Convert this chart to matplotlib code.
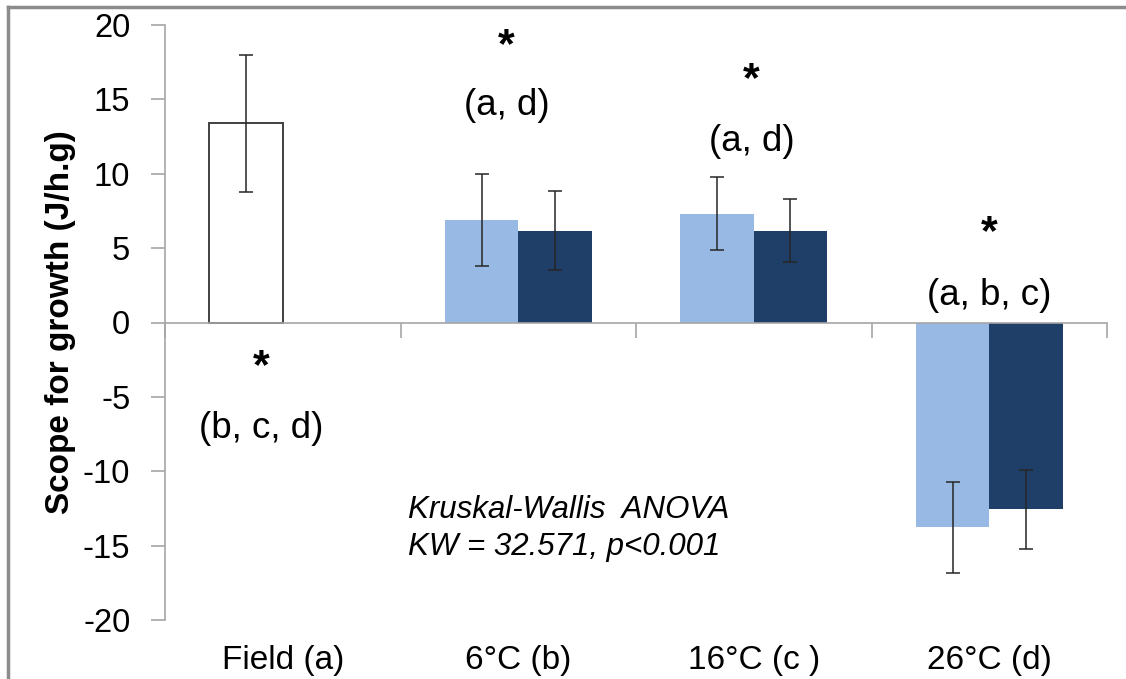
import numpy as np
import matplotlib
matplotlib.use("Agg")
import matplotlib.pyplot as plt
from matplotlib.lines import Line2D

plt.rcParams["font.family"] = ["Liberation Sans", "DejaVu Sans"]
plt.rcParams["axes.unicode_minus"] = False

# data
categories = ["Field (a)", "6°C (b)", "16°C (c )", "26°C (d)"]
light_mean = [13.4, 6.9, 7.3, -13.75]
light_sd = [4.6, 3.1, 2.45, 3.06]
dark_mean = [np.nan, 6.17, 6.17, -12.55]
dark_sd = [np.nan, 2.67, 2.1, 2.65]
letters = ["(b, c, d)", "(a, d)", "(a, d)", "(a, b, c)"]
yticks = [-20, -15, -10, -5, 0, 5, 10, 15, 20]

# annotation placement (x offset from category centre, y of letters / star)
note_dx = [-0.09, -0.05, -0.01, 0.0]
letter_y = [-7.1, 14.6, 12.2, 1.8]
star_y = [-3.0, 18.6, 16.3, 6.0]

light_col = "#97B9E4"
dark_col = "#1F3F68"
axis_col = "#A6A6A6"

fig = plt.figure(figsize=(11.26, 6.79), dpi=100)
ax = fig.add_axes([165 / 1126, 1 - 620 / 679, (1107 - 165) / 1126, 595 / 679])

x = np.arange(len(categories))
w = 0.312

# first series: field bar is white with an outline, the rest light blue
face = ["white"] + [light_col] * (len(categories) - 1)
edge = ["#404040"] + [light_col] * (len(categories) - 1)
lw = [1.4] + [0] * (len(categories) - 1)
ax.bar(x - w / 2, light_mean, w, color=face, edgecolor=edge, linewidth=lw, zorder=2)
ax.bar(x + w / 2, dark_mean, w, color=dark_col, linewidth=0, zorder=2)

ekw = dict(fmt="none", ecolor="#262626", elinewidth=1.1, capsize=5, capthick=1.1, zorder=3)
ax.errorbar(x - w / 2, light_mean, yerr=light_sd, **ekw)
ax.errorbar(x + w / 2, dark_mean, yerr=dark_sd, **ekw)

ax.set_xlim(-0.5, len(categories) - 0.5)
ax.set_ylim(-20, 20)
ax.set_yticks(yticks)

for s in ["top", "right"]:
    ax.spines[s].set_visible(False)
ax.spines["left"].set_color(axis_col)
ax.spines["left"].set_linewidth(1.2)
ax.spines["bottom"].set_position(("data", 0))
ax.spines["bottom"].set_color(axis_col)
ax.spines["bottom"].set_linewidth(1.2)

ax.tick_params(axis="y", direction="out", length=10, width=1.2, color=axis_col,
               labelsize=23.5, pad=15, labelcolor="black")
ax.set_xticks(x)
ax.set_xticks(np.arange(len(categories) + 1) - 0.5, minor=True)
ax.tick_params(axis="x", which="major", length=0, labelbottom=False)
ax.tick_params(axis="x", which="minor", direction="out", length=11, width=1.2, color=axis_col)

sec = ax.secondary_xaxis(0.0)
sec.set_xticks(x)
sec.set_xticklabels(categories)
sec.tick_params(length=0, labelsize=24, pad=18)
sec.spines["bottom"].set_visible(False)

ax.set_ylabel("Scope for growth (J/h.g)", fontsize=24, fontweight="bold")
ax.yaxis.set_label_coords(-0.094, 0.5)

for i in range(len(categories)):
    ax.text(x[i] + note_dx[i], star_y[i], "*", ha="center", va="center",
            fontsize=31, fontweight="bold")
    ax.text(x[i] + note_dx[i], letter_y[i], letters[i], ha="center", va="center",
            fontsize=26.5)

ax.text(0.53, -13.85, "Kruskal-Wallis  ANOVA\nKW = 32.571, p<0.001", ha="left",
        va="center", fontsize=22.5, style="italic", linespacing=1.3)

# outer chart border (only top and left fall inside the picture)
fig.add_artist(Line2D([8 / 1126, 1], [1 - 7 / 679] * 2, color="#8C8C8C", lw=2.5,
                      transform=fig.transFigure))
fig.add_artist(Line2D([8 / 1126] * 2, [0, 1 - 7 / 679], color="#8C8C8C", lw=2.5,
                      transform=fig.transFigure))

fig.savefig("out.png", dpi=100)
